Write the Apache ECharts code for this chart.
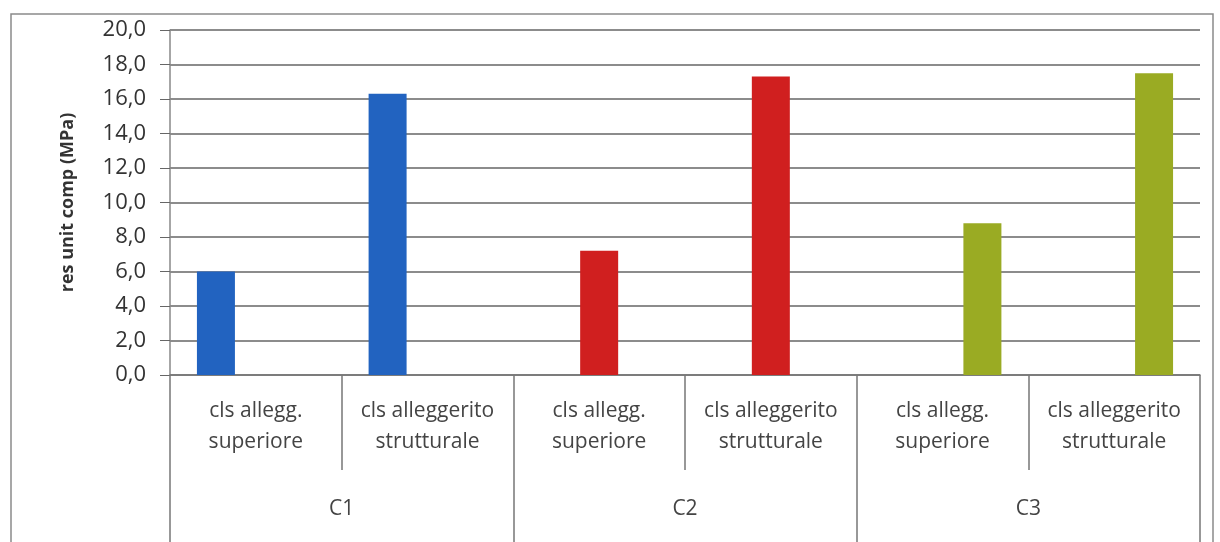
<!DOCTYPE html>
<html>
<head>
<meta charset="utf-8">
<script src="https://cdn.jsdelivr.net/npm/echarts@6/dist/echarts.min.js"></script>
<style>
html,body{margin:0;padding:0;background:#fff;}
#chart{width:1220px;height:542px;}
</style>
</head>
<body>
<div id="chart"></div>
<script>
var categories = ['cls allegg.\nsuperiore', 'cls alleggerito\nstrutturale',
                  'cls allegg.\nsuperiore', 'cls alleggerito\nstrutturale',
                  'cls allegg.\nsuperiore', 'cls alleggerito\nstrutturale'];
var groups = ['C1', 'C2', 'C3'];
var valuesC1 = [6.0, 16.3, null, null, null, null];
var valuesC2 = [null, null, 7.2, 17.3, null, null];
var valuesC3 = [null, null, null, null, 8.8, 17.5];
var colors = ['#2263c0', '#d01f1f', '#9aab23'];

var font = '"Open Sans", Lato, sans-serif';

function bar(name, data, color) {
    return {
        name: name,
        type: 'bar',
        xAxisIndex: 0,
        data: data,
        barWidth: 38,
        barGap: '5%',
        barCategoryGap: '31%',
        itemStyle: {color: color}
    };
}

var myChart = echarts.init(document.getElementById('chart'));
myChart.setOption({
    animation: false,
    grid: {left: 170, right: 20, top: 30, bottom: 167},
    graphic: [
        {
            type: 'rect',
            shape: {x: 11, y: 14, width: 1202, height: 540},
            style: {fill: null, stroke: '#8a8a8a', lineWidth: 1.5}
        }
    ],
    xAxis: [
        {
            type: 'category',
            data: categories,
            position: 'bottom',
            axisLine: {lineStyle: {color: '#777', width: 1.5}},
            axisTick: {show: true, length: 95, interval: 0, lineStyle: {color: '#777', width: 1.5}},
            axisLabel: {
                color: '#444', fontSize: 21, fontFamily: font,
                lineHeight: 31, margin: 21, interval: 0
            }
        },
        {
            type: 'category',
            data: groups,
            position: 'bottom',
            axisLine: {show: false},
            axisTick: {show: true, length: 170, interval: 0, lineStyle: {color: '#777', width: 1.5}},
            axisLabel: {
                color: '#444', fontSize: 21, fontFamily: font,
                margin: 124, interval: 0
            }
        }
    ],
    yAxis: {
        type: 'value',
        min: 0,
        max: 20,
        interval: 2,
        name: 'res unit comp (MPa)',
        nameLocation: 'middle',
        nameGap: 93,
        nameTextStyle: {color: '#333', fontSize: 18, fontWeight: 'bold', fontFamily: font},
        axisLine: {show: true, lineStyle: {color: '#888', width: 1.5}},
        axisTick: {show: true, length: 10, lineStyle: {color: '#666'}},
        axisLabel: {
            color: '#333', fontSize: 22, fontFamily: font, margin: 24,
            formatter: function (v) { return v.toFixed(1).replace('.', ','); }
        },
        splitLine: {lineStyle: {color: '#666', width: 1.5}}
    },
    series: [
        bar('C1', valuesC1, colors[0]),
        bar('C2', valuesC2, colors[1]),
        bar('C3', valuesC3, colors[2])
    ]
});
</script>
</body>
</html>
